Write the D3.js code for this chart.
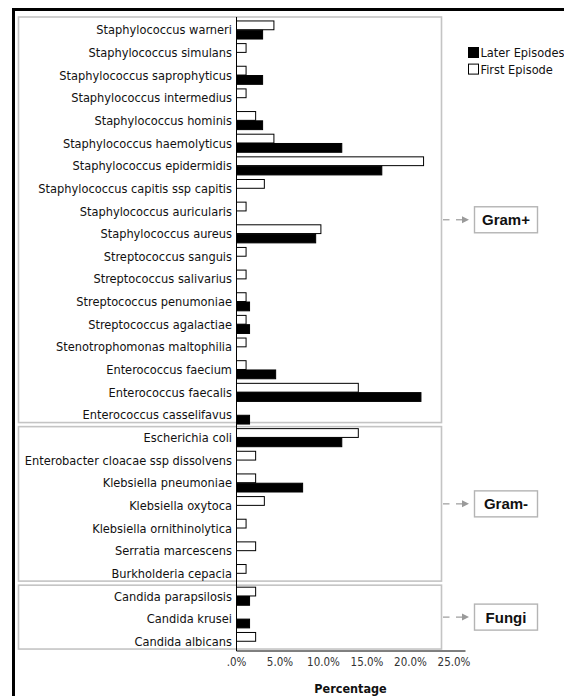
<!DOCTYPE html>
<html>
<head>
<meta charset="utf-8">
<script src="https://cdn.jsdelivr.net/npm/d3@7"></script>
<style>
  html, body { margin: 0; padding: 0; background: #fff; }
  svg { display: block; }
  .cat { font-family: "DejaVu Sans Condensed", "DejaVu Sans", sans-serif; font-size: 12.7px; fill: #111; }
  .tick text { font-family: "DejaVu Sans Condensed", "DejaVu Sans", sans-serif; font-size: 11.5px; fill: #333; }
</style>
</head>
<body>
<svg id="chart" width="564" height="696"></svg>
<script>
// Organisms, grouped into three panels
const gramPositive = [
  "Staphylococcus warneri", "Staphylococcus simulans", "Staphylococcus saprophyticus",
  "Staphylococcus intermedius", "Staphylococcus hominis", "Staphylococcus haemolyticus",
  "Staphylococcus epidermidis", "Staphylococcus capitis ssp capitis", "Staphylococcus auricularis",
  "Staphylococcus aureus", "Streptococcus sanguis", "Streptococcus salivarius",
  "Streptococcus penumoniae", "Streptococcus agalactiae", "Stenotrophomonas maltophilia",
  "Enterococcus faecium", "Enterococcus faecalis", "Enterococcus casselifavus"
];
const gramNegative = [
  "Escherichia coli", "Enterobacter cloacae ssp dissolvens", "Klebsiella pneumoniae",
  "Klebsiella oxytoca", "Klebsiella ornithinolytica", "Serratia marcescens", "Burkholderia cepacia"
];
const fungi = ["Candida parapsilosis", "Candida krusei", "Candida albicans"];

const groupNames = ["Gram+", "Gram-", "Fungi"];

// Percentages, in the order of the organisms above
const firstEpisode = [
  4.3, 1.1, 1.1, 1.1, 2.2, 4.3, 21.5, 3.2, 1.1, 9.7, 1.1, 1.1, 1.1, 1.1, 1.1, 1.1, 14.0, 0,
  14.0, 2.2, 2.2, 3.2, 1.1, 2.2, 1.1,
  2.2, 0, 2.2
];
const laterEpisodes = [
  3.0, 0, 3.0, 0, 3.0, 12.1, 16.7, 0, 0, 9.1, 0, 0, 1.5, 1.5, 0, 4.5, 21.2, 1.5,
  12.1, 0, 7.6, 0, 0, 0, 0,
  1.5, 1.5, 0
];

const seriesNames = ["First Episode", "Later Episodes"];
const legendOrder = ["Later Episodes", "First Episode"];

const tickValues = [0, 5, 10, 15, 20, 25];
const tickLabels = [".0%", "5.0%", "10.0%", "15.0%", "20.0%", "25.0%"];
const axisTitle = "Percentage";

// ---- layout ----
const svg = d3.select("#chart");
const categories = [...gramPositive, ...gramNegative, ...fungi];
const groupMembers = [gramPositive, gramNegative, fungi];

const x = d3.scaleLinear().domain([0, 26.32]).range([236, 465]);
const y = d3.scaleBand().domain(categories).range([20, 651])
  .paddingInner(0.18).paddingOuter(0.02);
const ySub = d3.scaleBand().domain(seriesNames).range([0, y.bandwidth()]);
const fillOf = d3.scaleOrdinal().domain(seriesNames).range(["#fff", "#000"]);

// outer frame
svg.append("rect")
  .attr("x", 13.5).attr("y", 9.5).attr("width", 620).attr("height", 720)
  .attr("fill", "none").attr("stroke", "#000").attr("stroke-width", 3);

// panel boxes and their group labels
const bw = y.bandwidth();
groupMembers.forEach((members, gi) => {
  const first = members[0], last = members[members.length - 1];
  const top = gi === 0 ? 17 : y(first) - 1.5;
  const bottom = y(last) + bw - 1.5;
  svg.append("rect")
    .attr("x", 18.5).attr("y", top)
    .attr("width", 423).attr("height", bottom - top)
    .attr("fill", "none").attr("stroke", "#c4c4c4").attr("stroke-width", 1.6);

  const cy = (top + bottom) / 2;
  const ann = svg.append("g").attr("transform", `translate(0,${cy})`);
  ann.append("line").attr("x1", 443).attr("x2", 449.5).attr("y1", 0).attr("y2", 0)
    .attr("stroke", "#9a9a9a").attr("stroke-width", 1.2);
  ann.append("line").attr("x1", 456).attr("x2", 464).attr("y1", 0).attr("y2", 0)
    .attr("stroke", "#9a9a9a").attr("stroke-width", 1.2);
  ann.append("path").attr("d", "M462,-3.5 L469,0 L462,3.5 Z").attr("fill", "#9a9a9a");
  ann.append("rect").attr("x", 474.5).attr("y", -13).attr("width", 63).attr("height", 26)
    .attr("fill", "#fff").attr("stroke", "#b4b4b4").attr("stroke-width", 1.4);
  ann.append("text").attr("x", 506).attr("y", 0).attr("dy", "0.36em")
    .attr("text-anchor", "middle")
    .style("font-family", "'Liberation Sans', Arial, sans-serif")
    .style("font-weight", "bold").style("font-size", "15px").style("fill", "#111")
    .text(groupNames[gi]);
});

// bars
const rows = svg.append("g").selectAll("g").data(categories).join("g")
  .attr("transform", d => `translate(0,${y(d)})`);

rows.selectAll("rect")
  .data((d, i) => [
    { series: "First Episode", value: firstEpisode[i] },
    { series: "Later Episodes", value: laterEpisodes[i] }
  ])
  .join("rect")
  .attr("x", x(0) + 0.5)
  .attr("y", d => ySub(d.series) + 0.5)
  .attr("width", d => x(d.value) - x(0))
  .attr("height", ySub.bandwidth() - 0.5)
  .attr("fill", d => fillOf(d.series))
  .attr("stroke", "#000")
  .attr("stroke-width", 1);

// category labels
svg.append("g").selectAll("text").data(categories).join("text")
  .attr("class", "cat")
  .attr("x", 232)
  .attr("y", d => y(d) + bw / 2)
  .attr("dy", "0.36em")
  .attr("text-anchor", "end")
  .text(d => d);

// vertical axis line
svg.append("line")
  .attr("x1", x(0) + 0.5).attr("x2", x(0) + 0.5)
  .attr("y1", 17).attr("y2", 651)
  .attr("stroke", "#000").attr("stroke-width", 1);

// horizontal axis
const xAxis = d3.axisBottom(x)
  .tickValues(tickValues)
  .tickFormat((d, i) => tickLabels[i])
  .tickSize(0).tickSizeOuter(0).tickPadding(7);
const gx = svg.append("g").attr("transform", "translate(0,650.5)").call(xAxis);
gx.select(".domain").attr("stroke", "#000");

svg.append("text")
  .attr("x", (x.range()[0] + x.range()[1]) / 2).attr("y", 688)
  .attr("dy", "0.36em").attr("text-anchor", "middle")
  .style("font-family", "'DejaVu Sans Condensed', 'DejaVu Sans', sans-serif")
  .style("font-weight", "bold").style("font-size", "12.5px").style("fill", "#111")
  .text(axisTitle);

// legend
const legend = svg.append("g").selectAll("g").data(legendOrder).join("g")
  .attr("transform", (d, i) => `translate(468,${47 + i * 16.6})`);
legend.append("rect")
  .attr("x", 0.5).attr("y", 0.5).attr("width", 10).attr("height", 10)
  .attr("fill", d => fillOf(d)).attr("stroke", "#000").attr("stroke-width", 1);
legend.append("text")
  .attr("class", "cat")
  .attr("x", 12.5).attr("y", 5.5).attr("dy", "0.36em")
  .text(d => d);
</script>
</body>
</html>
